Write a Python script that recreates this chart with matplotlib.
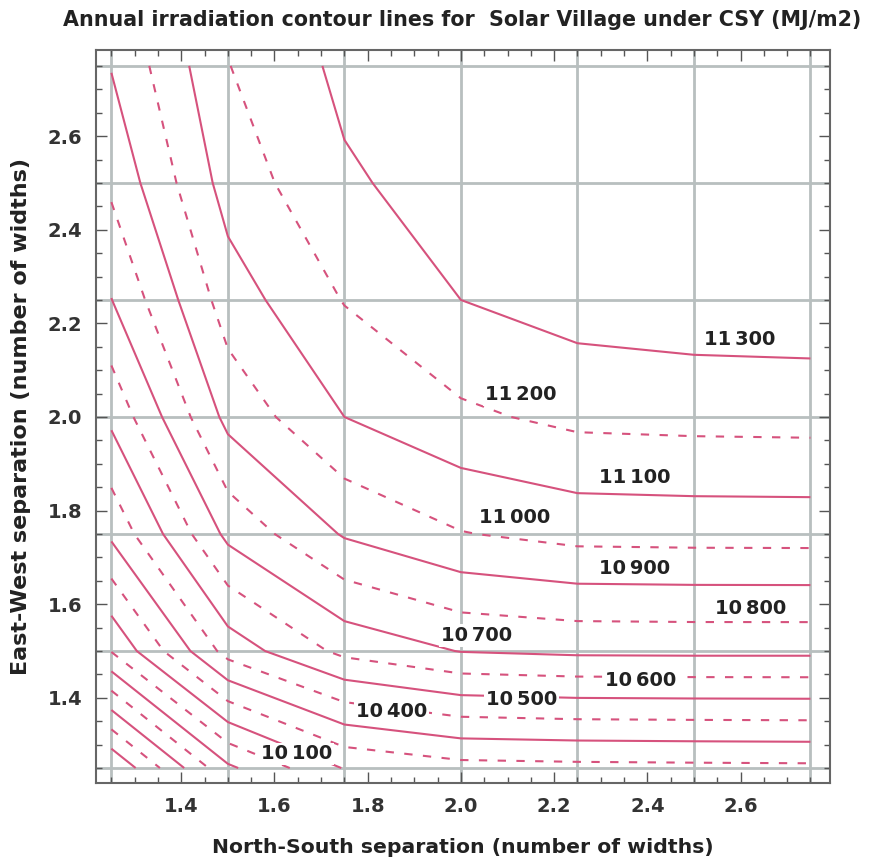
import numpy as np
import matplotlib
matplotlib.use("Agg")
import matplotlib.pyplot as plt
from matplotlib.ticker import MultipleLocator, FormatStrFormatter

plt.rcParams['font.family'] = ['DejaVu Sans']

# ---- data -------------------------------------------------------------
ns_sep = [1.25, 1.50, 1.75, 2.00, 2.25, 2.50, 2.75]   # x: North-South separation
ew_sep = [1.25, 1.50, 1.75, 2.00, 2.25, 2.50, 2.75]   # y: East-West separation
# annual irradiation (MJ/m2), rows = ew_sep, cols = ns_sep
irr = [
    [9400, 9880, 10106, 10163, 10171, 10175, 10178],
    [10005, 10440, 10628, 10704, 10720, 10722, 10722],
    [10320, 10726, 10910, 10995, 11033, 11037, 11038],
    [10523, 10930, 11100, 11181, 11225, 11232, 11235],
    [10698, 11050, 11205, 11300, 11344, 11360, 11365],
    [10820, 11142, 11286, 11344, 11366, 11376, 11382],
    [10905, 11197, 11324, 11355, 11370, 11380, 11385],
]
levels = list(range(9300, 11400, 100))
label_levels = [11300, 11200, 11100, 11000, 10900, 10800, 10700,
                10600, 10500, 10400, 10100]
label_xy = [(2.599, 2.165), (2.128, 2.047), (2.373, 1.870), (2.116, 1.786),
            (2.373, 1.677), (2.622, 1.590), (2.034, 1.534), (2.386, 1.438),
            (2.130, 1.397), (1.852, 1.371), (1.648, 1.280)]
grid_vals = [1.25, 1.50, 1.75, 2.00, 2.25, 2.50, 2.75]

title = "Annual irradiation contour lines for  Solar Village under CSY (MJ/m2)"
xlabel = "North-South separation (number of widths)"
ylabel = "East-West separation (number of widths)"

# ---- figure -------------------------------------------------------------
W, H = 869, 863
fig = plt.figure(figsize=(W / 100, H / 100), dpi=100)
fig.patch.set_facecolor('white')
ax = fig.add_axes([96 / W, 1 - 783 / H, (830 - 96) / W, (783 - 50) / H])
ax.set_xlim(1.217, 2.792)
ax.set_ylim(1.218, 2.784)

for g in grid_vals:
    ax.axvline(g, color='#b8bfbf', lw=2.0, zorder=1)
    ax.axhline(g, color='#b8bfbf', lw=2.0, zorder=1)

X, Y = np.meshgrid(ns_sep, ew_sep)
Z = np.array(irr, dtype=float)
styles = ['solid' if (lv // 100) % 2 == 1 else (0, (4, 5)) for lv in levels]
cs = ax.contour(X, Y, Z, levels=levels, colors='#d6527d',
                linewidths=1.5, linestyles=styles, zorder=2)

for lv, (lx, ly) in zip(label_levels, label_xy):
    txt = f"{lv // 1000}\u2009{lv % 1000:03d}"
    ax.text(lx, ly, txt, ha='center', va='center', fontsize=14,
            fontweight='bold', color='#222222', zorder=4,
            bbox=dict(boxstyle='square,pad=0.1', fc='white', ec='none'))

ax.xaxis.set_major_locator(MultipleLocator(0.2))
ax.xaxis.set_minor_locator(MultipleLocator(0.05))
ax.yaxis.set_major_locator(MultipleLocator(0.2))
ax.yaxis.set_minor_locator(MultipleLocator(0.05))
ax.xaxis.set_major_formatter(FormatStrFormatter('%.1f'))
ax.yaxis.set_major_formatter(FormatStrFormatter('%.1f'))
ax.tick_params(which='both', direction='in', top=True, right=True,
               color='#555555', width=1.0)
ax.tick_params(which='major', length=8, labelsize=14, labelcolor='#333333', pad=10)
ax.tick_params(which='minor', length=4)
for lab in ax.get_xticklabels() + ax.get_yticklabels():
    lab.set_fontweight('bold')
for sp in ax.spines.values():
    sp.set_color('#666666')
    sp.set_linewidth(1.5)

ax.set_xlabel(xlabel, fontsize=14.7, fontweight='bold', color='#222222', labelpad=16)
ax.set_ylabel(ylabel, fontsize=16, fontweight='bold', color='#222222', labelpad=12)
fig.text(462 / W, 1 - 20 / H, title, ha='center', va='center', fontsize=14.9,
         fontweight='bold', color='#222222')

fig.savefig('out.png', dpi=100)
